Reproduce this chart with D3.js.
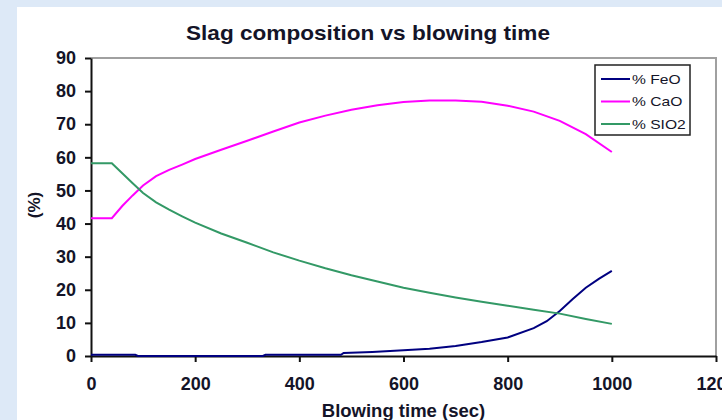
<!DOCTYPE html>
<html>
<head>
<meta charset="utf-8">
<script src="https://cdn.jsdelivr.net/npm/d3@7"></script>
<style>
  html, body { margin: 0; padding: 0; background: #dde9f7; }
  svg { display: block; }
</style>
</head>
<body>
<div id="chart"></div>
<script>
// series (time in sec, values in %)
const timeSec = [0, 40, 60, 80, 100, 125, 150, 175, 200, 250, 300, 350, 400, 450, 500,
                 550, 600, 650, 700, 750, 800, 850, 900, 950, 1000];
const caoPct  = [41.6, 41.6, 45.3, 48.5, 51.5, 54.3, 56.2, 57.8, 59.5, 62.3, 65.0, 67.8, 70.5,
                 72.6, 74.4, 75.7, 76.7, 77.2, 77.2, 76.8, 75.6, 73.8, 71.0, 67.0, 61.6];
const sio2Pct = [58.2, 58.2, 55.2, 52.2, 49.2, 46.4, 44.2, 42.2, 40.3, 37.0, 34.2, 31.3, 28.8,
                 26.5, 24.4, 22.5, 20.6, 19.1, 17.7, 16.4, 15.2, 14.0, 12.8, 11.2, 9.7];
const feoTime = [0, 85, 90, 330, 335, 480, 485, 540, 600, 650, 700, 750, 800, 850, 875,
                 900, 925, 950, 975, 1000];
const feoPct  = [0.35, 0.35, 0, 0, 0.35, 0.35, 0.9, 1.2, 1.7, 2.2, 3.0, 4.2, 5.6, 8.4, 10.5,
                 13.6, 17.2, 20.6, 23.3, 25.7];

const seriesNames  = ["% FeO", "% CaO", "% SIO2"];
const seriesColors = ["#000080", "#ff00ff", "#339966"];
const xTicks = [0, 200, 400, 600, 800, 1000, 1200];
const yTicks = [0, 10, 20, 30, 40, 50, 60, 70, 80, 90];

const W = 722, H = 420;
const plot = { left: 91, right: 716, top: 58, bottom: 356 };
const font = "'Liberation Sans', Arial, sans-serif";

const svg = d3.select("#chart").append("svg")
    .attr("width", W).attr("height", H);

// white panel on light blue page
svg.append("rect").attr("x", 17).attr("y", 7)
    .attr("width", W - 17).attr("height", H - 7).attr("fill", "#fff");

const x = d3.scaleLinear().domain([0, 1200]).range([plot.left, plot.right]);
const y = d3.scaleLinear().domain([0, 90]).range([plot.bottom, plot.top]);

// gray frame top + right
svg.append("path")
    .attr("d", `M${plot.left},${plot.top}H${plot.right}V${plot.bottom}`)
    .attr("fill", "none").attr("stroke", "#a0a0a0").attr("stroke-width", 2);

// data lines
const line = d3.line().x(d => x(d[0])).y(d => y(d[1]));
const series = [
    d3.zip(feoTime, feoPct),
    d3.zip(timeSec, caoPct),
    d3.zip(timeSec, sio2Pct)
];

// axes
const yAxis = svg.append("g")
    .attr("transform", `translate(${plot.left},0)`)
    .call(d3.axisLeft(y).tickValues(yTicks).tickFormat(d3.format("d"))
        .tickSize(6).tickPadding(9).tickSizeOuter(0));
const xAxis = svg.append("g")
    .attr("transform", `translate(0,${plot.bottom})`)
    .call(d3.axisBottom(x).tickValues(xTicks).tickFormat(d3.format("d"))
        .tickSize(6).tickPadding(15).tickSizeOuter(0));

[xAxis, yAxis].forEach(ax => {
    ax.select(".domain").attr("stroke", "#111").attr("stroke-width", 2);
    ax.selectAll(".tick line").attr("stroke", "#111").attr("stroke-width", 2);
    ax.selectAll(".tick text")
        .attr("fill", "#141428")
        .style("font-family", font)
        .style("font-size", "18px")
        .style("font-weight", "bold");
});

series.forEach((s, i) => {
    svg.append("path")
        .datum(s)
        .attr("d", line)
        .attr("fill", "none")
        .attr("stroke", seriesColors[i])
        .attr("stroke-width", 2);
});

// title
svg.append("text")
    .attr("transform", "translate(368,40) scale(1.13,1)")
    .attr("text-anchor", "middle")
    .attr("fill", "#141428")
    .style("font-family", font).style("font-size", "20px").style("font-weight", "bold")
    .text("Slag composition vs blowing time");

// axis titles
svg.append("text")
    .attr("x", (plot.left + plot.right) / 2).attr("y", 417)
    .attr("text-anchor", "middle")
    .attr("fill", "#141428")
    .style("font-family", font).style("font-size", "18.5px").style("font-weight", "bold")
    .text("Blowing time (sec)");

svg.append("text")
    .attr("transform", "translate(40,205) rotate(-90)")
    .attr("text-anchor", "middle")
    .attr("fill", "#141428")
    .style("font-family", font).style("font-size", "17px").style("font-weight", "bold")
    .text("(%)");

// legend
const lg = svg.append("g").attr("transform", "translate(595,65)");
lg.append("rect").attr("width", 95).attr("height", 70)
    .attr("fill", "#fff").attr("stroke", "#222").attr("stroke-width", 1.5);
seriesNames.forEach((name, i) => {
    const ly = 14 + i * 22.5;
    lg.append("line")
        .attr("x1", 6).attr("x2", 35).attr("y1", ly).attr("y2", ly)
        .attr("stroke", seriesColors[i]).attr("stroke-width", 2);
    lg.append("text")
        .attr("transform", `translate(37,${ly + 4.5}) scale(1.25,1)`)
        .attr("fill", "#141428")
        .style("font-family", font).style("font-size", "12.5px")
        .text(name);
});
</script>
</body>
</html>
